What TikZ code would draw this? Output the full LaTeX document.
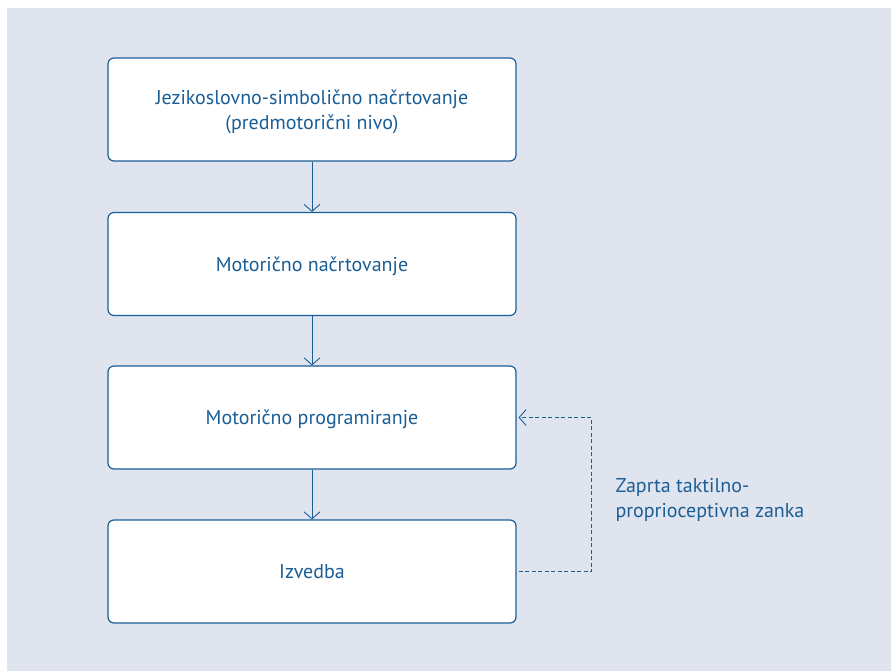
\documentclass[tikz,border=0pt]{standalone}
\usepackage{fontspec}
\setmainfont{PT Sans}
\usetikzlibrary{arrows.meta}
\definecolor{zanka}{HTML}{1B5E96}
\definecolor{ozadje}{HTML}{E0E4EE}
\tikzset{
  korak/.style={draw=zanka,line width=1.2pt,rounded corners=6pt,fill=white,
    minimum width=408pt,minimum height=103pt,text=zanka,align=center,
    text depth=0pt,font=\fontsize{20pt}{25pt}\selectfont},
  puscica/.style={draw=zanka,line width=0.9pt,-{Straight Barb[length=7pt,width=16pt]}},
}
\begin{document}
\begin{tikzpicture}[x=1pt,y=-1pt]
  \useasboundingbox (0,0) rectangle (891,671);
  \fill[ozadje] (7,8) rectangle (891,671);
  \node[korak] (jezik) at (312,109.5) {Jezikoslovno-simbolično načrtovanje\\(predmotorični nivo)};
  \node[korak] (nacrt) at (312,264) {Motorično načrtovanje};
  \node[korak] (prog) at (312,417.5) {Motorično programiranje};
  \node[korak] (izvedba) at (312,571.5) {Izvedba};
  \draw[puscica] (jezik) -- (nacrt);
  \draw[puscica] (nacrt) -- (prog);
  \draw[puscica] (prog) -- (izvedba);
  % povratna zanka
  \coordinate (z1) at ([xshift=2pt]izvedba.east);
  \coordinate (z2) at ([xshift=2pt]prog.east);
  \draw[puscica,dash pattern=on 4pt off 2.5pt] (z1) -- ++(73,0) |- (z2);
  \node[text=zanka,align=left,anchor=west,font=\fontsize{20pt}{25pt}\selectfont] (opis) at (612,500) {Zaprta taktilno-\\proprioceptivna zanka};
\end{tikzpicture}
\end{document}
